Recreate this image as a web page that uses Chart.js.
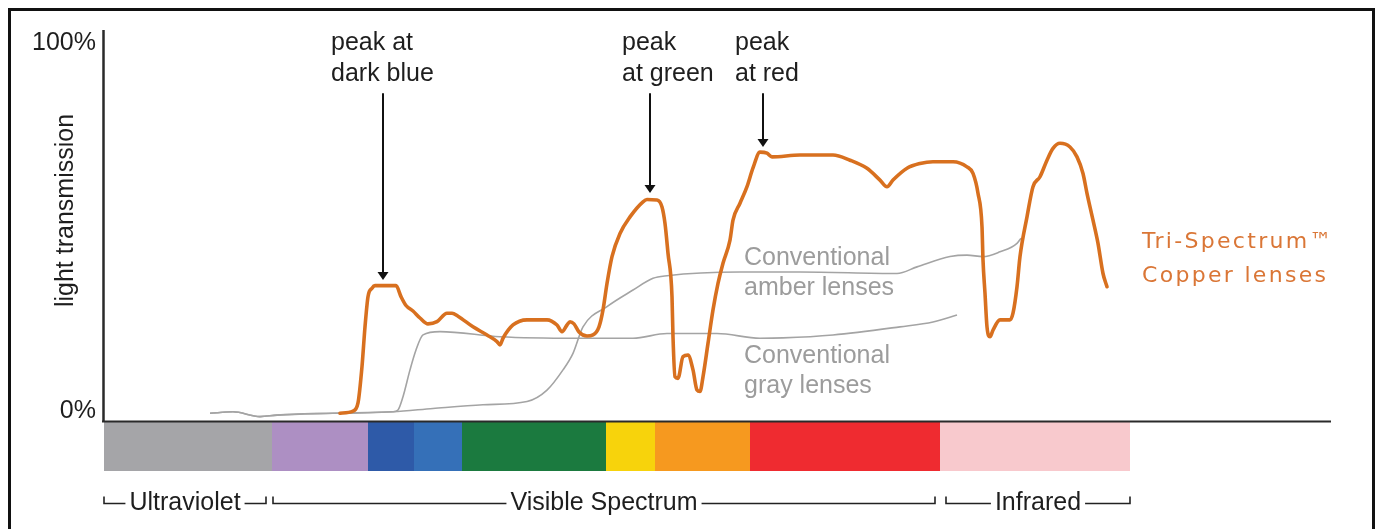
<!DOCTYPE html>
<html><head><meta charset="utf-8">
<script src="https://cdn.jsdelivr.net/npm/chart.js@4/dist/chart.umd.min.js"></script>
<style>
html,body{margin:0;padding:0;background:#fff;overflow:hidden;width:1375px;height:529px}
#wrap{position:absolute;left:0;top:0;width:1375px;height:529px}
#frame{position:absolute;left:8px;top:8px;width:1361px;height:600px;border-top:3px solid #111;border-left:3px solid #111;border-right:3px solid #111;pointer-events:none}
</style></head><body>
<div id="wrap"><canvas id="c" width="1375" height="529"></canvas></div>
<div id="frame"></div>
<script>
// ---- data (x: position along the spectrum strip, y: % light transmission) ----
const copperX = [23.6,24.9,25.4,25.8,26.1,26.4,26.8,27.1,29.2,29.7,30.2,30.9,31.6,32.4,33.3,34.3,34.8,35.4,36.9,38.3,39.3,39.6,39.9,40.9,42.3,44.3,45.3,45.8,46.3,46.6,47.0,47.5,48.3,48.9,49.5,49.9,50.3,50.8,51.6,52.6,53.9,54.3,55.3,55.8,56.1,56.4,56.8,56.9,57.1,57.4,57.9,58.4,58.9,59.3,59.6,59.9,60.4,60.9,61.4,61.9,62.6,62.9,63.6,64.3,64.9,65.6,66.3,66.8,69.6,72.9,74.6,76.3,77.6,78.3,78.9,80.3,81.6,82.9,84.9,86.3,86.9,87.4,87.8,87.9,88.1,88.3,88.6,88.9,89.6,90.6,90.9,91.3,91.6,92.3,92.9,93.6,94.3,94.9,95.6,96.6,97.3,97.9,98.3,98.9,99.4,99.9,100.3];
const copperY = [-0.9,-0.3,1.9,11.8,22.6,30.8,33.1,33.8,33.8,30.8,28.4,26.9,25.0,23.4,24.0,26.3,26.3,25.5,22.6,20.4,18.6,17.7,19.5,23.1,24.5,24.5,23.1,21.3,23.1,24.0,23.4,21.2,20.1,20.4,22.6,27.2,34.4,41.7,48.0,52.5,56.6,57.2,57.1,55.2,50.7,42.6,30.8,19.9,9.0,8.6,14.5,14.9,10.9,5.4,5.0,9.0,18.1,27.2,34.4,39.9,46.2,51.6,56.2,60.7,65.8,70.1,69.8,68.8,69.3,69.3,67.9,65.7,62.5,60.7,62.5,65.7,67.0,67.5,67.5,66.1,64.3,58.9,49.8,40.8,31.7,22.6,19.9,21.7,24.5,24.5,26.3,33.5,41.7,52.5,60.7,63.4,67.9,71.1,72.5,71.5,68.8,64.3,58.9,51.6,45.3,37.1,33.5];
const grayX = [10.6,12.9,15.6,17.3,22.9,28.9,29.4,29.9,30.6,31.2,31.9,33.6,39.6,47.3,52.9,56.3,61.3,65.6,67.9,72.9,79.6,82.9,85.3];
const grayY = [-0.9,-0.5,-1.8,-1.4,-0.9,-0.5,0,3.6,10.9,16.3,20.4,21.3,19.9,19.5,19.5,20.8,20.8,19.5,19.6,20.4,22.6,23.9,25.8];
const amberX = [10.6,12.9,15.6,17.3,22.9,28.9,32.9,37.9,42.3,44.3,45.9,46.9,47.9,50.3,52.9,54.9,56.3,63.6,69.6,79.3,81.3,84.6,86.3,87.9,89.6,91.3,91.7];
const amberY = [-0.9,-0.5,-1.8,-1.4,-0.9,-0.5,0.4,1.4,2.3,5.4,10.9,15.4,22.6,28.1,32.6,35.8,36.5,37.5,37.5,37.1,38.9,41.7,42.1,41.7,43.0,45.3,46.7];

const yTickValues = [0, 100];
const yTickLabels = ['0%', '100%'];

const bandEdges = [0, 16.8, 26.4, 31.0, 35.8, 50.2, 55.1, 64.6, 83.6, 102.6];
const bandColors = ['#a5a5a8','#ad8fc3','#2e5aa8','#3570b8','#1b7a3f','#f7d30c','#f6991f','#ef2b30','#f8c9cd'];

const regionNames = ['Ultraviolet', 'Visible Spectrum', 'Infrared'];
const regionStart = [0, 16.9, 84.2];
const regionEnd = [16.2, 83.1, 102.6];

const peakLines = [['peak at','dark blue'], ['peak','at green'], ['peak','at red']];
const peakTextX = [22.7, 51.8, 63.1];
const peakArrowX = [27.9, 54.6, 65.9];
const peakArrowTop = 86.1;
const peakArrowTip = [35.3, 59.0, 71.5];
const peakLineY = [97.8, 89.4];

const seriesLabels = [
  {lines:['Conventional','amber lenses'], x:64.0, y:[39.4,31.3], color:'#9c9c9c'},
  {lines:['Conventional','gray lenses'], x:64.0, y:[12.7,4.5], color:'#9c9c9c'},
  {lines:['Tri-Spectrum\u2122','Copper lenses'], x:103.8, y:[43.9,34.9], color:'#da7636'}
];
const yTitle = 'light transmission';

const FONT = '"Liberation Sans", Arial, sans-serif';

const deco = {
  id: 'deco',
  afterDatasetsDraw(chart) {
    const {ctx, chartArea: a, scales: {x, y}} = chart;
    ctx.save();
    // spectrum bands
    for (let i = 0; i < bandColors.length; i++) {
      const x0 = x.getPixelForValue(bandEdges[i]);
      const x1 = x.getPixelForValue(bandEdges[i + 1]);
      ctx.fillStyle = bandColors[i];
      ctx.fillRect(x0, a.bottom + 1, x1 - x0, 49);
    }
    // axes
    ctx.strokeStyle = '#2a2a2a';
    ctx.lineWidth = 2.5;
    ctx.beginPath();
    ctx.moveTo(a.left - 0.5, a.top);
    ctx.lineTo(a.left - 0.5, a.bottom + 1);
    ctx.stroke();
    ctx.lineWidth = 2;
    ctx.beginPath();
    ctx.moveTo(a.left - 2, a.bottom + 0.5);
    ctx.lineTo(a.right, a.bottom + 0.5);
    ctx.stroke();
    // y tick labels
    ctx.fillStyle = '#1e1e1e';
    ctx.font = '25px ' + FONT;
    ctx.textAlign = 'right';
    ctx.textBaseline = 'alphabetic';
    yTickValues.forEach((v, i) => ctx.fillText(yTickLabels[i], a.left - 8, y.getPixelForValue(v) + 8));
    // y title
    ctx.save();
    ctx.translate(a.left - 31, (a.top + a.bottom) / 2 - 15);
    ctx.rotate(-Math.PI / 2);
    ctx.textAlign = 'center';
    ctx.fillText(yTitle, 0, 0);
    ctx.restore();
    // region brackets
    ctx.textAlign = 'center';
    ctx.lineWidth = 1.6;
    ctx.strokeStyle = '#222';
    const by = a.bottom + 82.5;
    regionNames.forEach((name, i) => {
      const xs = x.getPixelForValue(regionStart[i]);
      const xe = x.getPixelForValue(regionEnd[i]);
      const cx = (xs + xe) / 2;
      const w = ctx.measureText(name).width;
      ctx.beginPath();
      ctx.moveTo(xs, by - 7); ctx.lineTo(xs, by); ctx.lineTo(cx - w / 2 - 4, by);
      ctx.moveTo(cx + w / 2 + 4, by); ctx.lineTo(xe, by); ctx.lineTo(xe, by - 7);
      ctx.stroke();
      ctx.fillText(name, cx, a.bottom + 89);
    });
    // peak labels and arrows
    ctx.textAlign = 'left';
    peakLines.forEach((lines, i) => {
      lines.forEach((t, j) => ctx.fillText(t, x.getPixelForValue(peakTextX[i]), y.getPixelForValue(peakLineY[j])));
      const ax = x.getPixelForValue(peakArrowX[i]);
      const top = y.getPixelForValue(peakArrowTop);
      const tip = y.getPixelForValue(peakArrowTip[i]);
      ctx.strokeStyle = '#111';
      ctx.lineWidth = 2;
      ctx.beginPath();
      ctx.moveTo(ax, top); ctx.lineTo(ax, tip - 6);
      ctx.stroke();
      ctx.fillStyle = '#111';
      ctx.beginPath();
      ctx.moveTo(ax - 5.5, tip - 8); ctx.lineTo(ax + 5.5, tip - 8); ctx.lineTo(ax, tip);
      ctx.closePath(); ctx.fill();
      ctx.fillStyle = '#1e1e1e';
    });
    // series labels
    seriesLabels.forEach((s, k) => {
      ctx.fillStyle = s.color;
      if (k === 2) { ctx.font = '22px "DejaVu Sans", sans-serif'; ctx.letterSpacing = '2.3px'; }
      else { ctx.font = '25px ' + FONT; ctx.letterSpacing = '0px'; }
      s.lines.forEach((t, j) => ctx.fillText(t, x.getPixelForValue(s.x), y.getPixelForValue(s.y[j])));
    });
    ctx.letterSpacing = '0px';
    ctx.restore();
  }
};

const pts = (xs, ys) => xs.map((v, i) => ({x: v, y: ys[i]}));

new Chart(document.getElementById('c'), {
  type: 'line',
  data: {
    datasets: [
      {label: 'Tri-Spectrum Copper lenses', data: pts(copperX, copperY), borderColor: '#d8701f', borderWidth: 3.6, pointRadius: 0, cubicInterpolationMode: 'monotone', borderJoinStyle: 'round', borderCapStyle: 'round', fill: false},
      {label: 'Conventional amber lenses', data: pts(amberX, amberY), borderColor: '#a4a4a4', borderWidth: 1.6, pointRadius: 0, cubicInterpolationMode: 'monotone', fill: false},
      {label: 'Conventional gray lenses', data: pts(grayX, grayY), borderColor: '#a4a4a4', borderWidth: 1.6, pointRadius: 0, cubicInterpolationMode: 'monotone', fill: false}
    ]
  },
  options: {
    responsive: false,
    devicePixelRatio: 1,
    animation: false,
    events: [],
    layout: {padding: {left: 104, top: 30, right: 44, bottom: 108}},
    plugins: {legend: {display: false}, tooltip: {enabled: false}},
    scales: {
      x: {type: 'linear', min: 0, max: 122.7, display: false},
      y: {type: 'linear', min: -3, max: 103.3, display: false}
    }
  },
  plugins: [deco]
});
</script>
</body></html>
